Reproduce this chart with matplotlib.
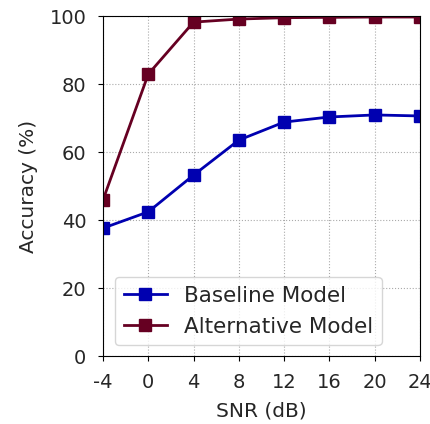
import matplotlib
matplotlib.use("Agg")
import matplotlib.pyplot as plt

snr = [-4, 0, 4, 8, 12, 16, 20, 24]
baseline = [37.6, 42.4, 53.2, 63.5, 68.8, 70.3, 70.9, 70.6]
alternative = [45.9, 82.9, 98.2, 99.1, 99.5, 99.6, 99.7, 99.7]
xticks = [-4, 0, 4, 8, 12, 16, 20, 24]
yticks = [0, 20, 40, 60, 80, 100]

plt.rcParams['font.size'] = 14
plt.rcParams['text.color'] = '#262626'
plt.rcParams['axes.labelcolor'] = '#262626'
plt.rcParams['xtick.labelcolor'] = '#262626'
plt.rcParams['ytick.labelcolor'] = '#262626'
fig = plt.figure(figsize=(4.31, 4.24), dpi=100)
ax = fig.add_axes([103/431, 68/424, 317/431, 340/424])
ax.plot(snr, baseline, '-s', color='#0000B0', lw=2, ms=9, label='Baseline Model', clip_on=True)
ax.plot(snr, alternative, '-s', color='#660022', lw=2, ms=9, label='Alternative Model', clip_on=True)
ax.set_xlim(-4, 24)
ax.set_ylim(0, 100)
ax.set_xticks(xticks)
ax.set_xticklabels([str(t) for t in xticks])
ax.set_yticks(yticks)
ax.tick_params(axis='both', pad=8.5, labelsize=14)
ax.grid(True, linestyle=':', color='#aaaaaa')
ax.set_xlabel('SNR (dB)', fontsize=14.5, labelpad=7)
ax.set_ylabel('Accuracy (%)', fontsize=14.5, labelpad=8)
ax.legend(loc='lower left', bbox_to_anchor=(0.038, 0.032), borderaxespad=0, fontsize=15.5)
fig.savefig('out.png', dpi=100)
